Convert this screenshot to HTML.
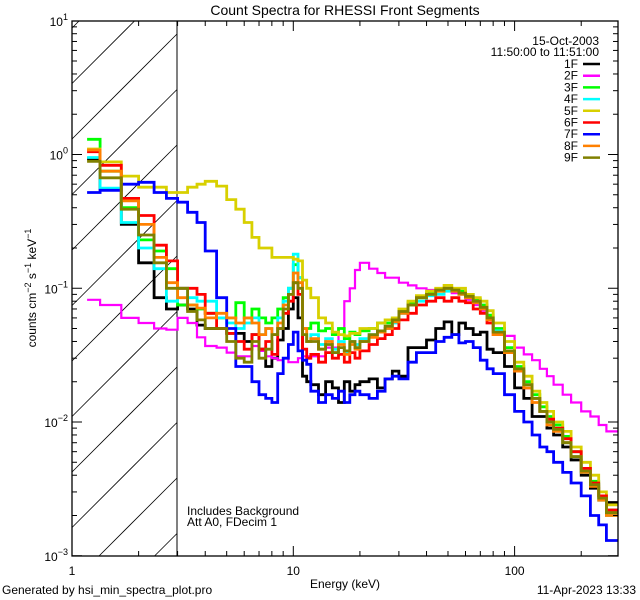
<!DOCTYPE html>
<html><head><meta charset="utf-8"><style>
html,body{margin:0;padding:0;background:#fff;width:640px;height:600px;overflow:hidden;}
svg{display:block;font-family:"Liberation Sans",sans-serif;}
</style></head><body>
<svg id="chart" width="640" height="600" viewBox="0 0 640 600" xmlns="http://www.w3.org/2000/svg">
<rect width="640" height="600" fill="#fff"/>
<defs><clipPath id="plotclip"><rect x="72" y="21" width="546" height="535"/></clipPath></defs>
<text x="345" y="15" font-size="14" text-anchor="middle">Count Spectra for RHESSI Front Segments</text>
<g id="hatch"></g>
<line x1="177" y1="21" x2="177" y2="556" stroke="#000" stroke-width="1"/>
<g id="series" clip-path="url(#plotclip)"></g>
<rect x="72" y="21" width="546" height="535" fill="none" stroke="#000" stroke-width="1.3"/>
<g id="ticks"></g>
<text x="345" y="588" font-size="12" text-anchor="middle">Energy (keV)</text>
<text transform="translate(36,288) rotate(-90)" font-size="12" text-anchor="middle">counts cm<tspan dy="-5" font-size="9">−2</tspan><tspan dy="5"> s</tspan><tspan dy="-5" font-size="9">−1</tspan><tspan dy="5"> keV</tspan><tspan dy="-5" font-size="9">−1</tspan></text>
<text x="599" y="45" font-size="12" text-anchor="end">15-Oct-2003</text>
<text x="599" y="56" font-size="12" text-anchor="end">11:50:00 to 11:51:00</text>
<g id="legend"></g>
<text x="187" y="515" font-size="12">Includes Background</text>
<text x="187" y="526" font-size="12">Att A0, FDecim 1</text>
<text x="2" y="594" font-size="12">Generated by hsi_min_spectra_plot.pro</text>
<text x="636" y="594" font-size="12" text-anchor="end">11-Apr-2023 13:33</text>
</svg>
<script>
const edges = [1.17,1.34,1.67,2.0,2.35,2.67,3.0,3.33,3.67,4.0,4.5,5.0,5.5,6.0,6.5,7.0,7.5,8.0,8.5,9.0,9.5,10.0,10.5,11.0,11.5,12.0,13,14,15,16,17,18,19,20,22,24,26,28,30,33,36,40,44,48,52,56,60,65,70,75,80,90,100,110,120,130,140,150,165,180,200,220,240,260,292];
const seriesNames = ["1F","2F","3F","4F","5F","6F","7F","8F","9F"];
const seriesColors = ["#000000","#ff00ff","#00ff00","#00ffff","#d8d000","#ff0000","#0000ff","#ff8000","#808000"];
const s1F = [0.93,0.55,0.30,0.155,0.085,0.07,0.075,0.07,0.053,0.05,0.05,
 0.046,0.046,0.04,0.045,0.035,0.026,0.03,0.041,0.05,0.07,
 0.085,0.06,0.022,0.02,
 0.019,0.016,0.02,0.018,0.014,0.02,0.017,0.019,0.02,0.021,0.018,0.021,0.024,
 0.022,0.036,0.036,0.041,0.05,0.056,0.045,0.055,0.05,0.045,0.047,0.035,0.033,0.026,
 0.018,0.015,0.011,0.011,0.009,0.008,0.0065,0.0052,0.004,0.0032,0.0028,0.0025];
const s2F = [0.082,0.075,0.06,0.055,0.05,0.049,0.06,0.055,0.043,0.037,0.036,
 0.033,0.031,0.031,0.037,0.034,0.031,0.03,0.029,0.03,0.028,
 0.028,0.03,0.031,0.031,
 0.031,0.031,0.036,0.036,0.05,0.08,0.1,0.137,0.155,0.14,0.13,0.12,0.12,
 0.11,0.105,0.1,0.097,0.097,0.095,0.092,0.09,0.082,0.075,0.068,0.06,0.05,0.044,
 0.036,0.032,0.029,0.025,0.022,0.019,0.016,0.014,0.012,0.011,0.0095,0.0085];
const s3F = [1.3,0.75,0.4,0.23,0.19,0.14,0.075,0.075,0.07,0.065,0.06,
 0.06,0.078,0.06,0.07,0.06,0.055,0.06,0.07,0.085,0.1,
 0.15,0.12,0.05,0.05,
 0.055,0.048,0.05,0.045,0.05,0.042,0.047,0.045,0.048,0.05,0.055,0.055,0.06,
 0.068,0.078,0.085,0.092,0.095,0.1,0.098,0.095,0.09,0.083,0.075,0.063,0.05,0.036,
 0.026,0.02,0.016,0.013,0.011,0.0095,0.0078,0.006,0.0045,0.0036,0.0028,0.0022];
const s4F = [0.95,0.56,0.31,0.2,0.14,0.08,0.1,0.085,0.08,0.08,0.06,
 0.055,0.05,0.055,0.06,0.045,0.05,0.045,0.06,0.08,0.1,
 0.18,0.12,0.045,0.04,
 0.045,0.038,0.042,0.035,0.04,0.033,0.04,0.038,0.042,0.045,0.048,0.05,0.055,
 0.065,0.075,0.08,0.088,0.09,0.095,0.097,0.09,0.085,0.078,0.07,0.06,0.048,0.034,
 0.025,0.019,0.015,0.012,0.01,0.0088,0.007,0.0055,0.0042,0.0034,0.0026,0.002];
const s5F = [1.1,0.88,0.69,0.57,0.57,0.52,0.52,0.57,0.6,0.63,0.58,
 0.46,0.39,0.31,0.24,0.2,0.2,0.17,0.17,0.17,0.17,
 0.165,0.16,0.115,0.1,
 0.085,0.06,0.055,0.047,0.045,0.044,0.046,0.046,0.05,0.05,0.055,0.058,0.06,
 0.07,0.08,0.088,0.095,0.1,0.105,0.1,0.1,0.09,0.085,0.08,0.068,0.055,0.04,
 0.028,0.022,0.017,0.014,0.012,0.01,0.0085,0.0065,0.005,0.004,0.003,0.0024];
const s6F = [1.05,0.83,0.47,0.35,0.21,0.16,0.1,0.1,0.09,0.065,0.05,
 0.046,0.04,0.035,0.045,0.035,0.04,0.032,0.05,0.065,0.08,
 0.11,0.09,0.035,0.03,
 0.032,0.028,0.033,0.03,0.032,0.028,0.033,0.03,0.034,0.038,0.042,0.045,0.05,
 0.058,0.065,0.075,0.08,0.085,0.08,0.085,0.08,0.078,0.07,0.065,0.055,0.045,0.033,
 0.024,0.018,0.015,0.012,0.0105,0.009,0.0075,0.006,0.0045,0.0035,0.0028,0.0022];
const s7F = [0.52,0.54,0.6,0.62,0.52,0.47,0.44,0.37,0.31,0.19,0.085,
 0.05,0.026,0.026,0.02,0.016,0.015,0.014,0.023,0.03,0.038,
 0.047,0.034,0.029,0.027,
 0.017,0.014,0.016,0.015,0.017,0.014,0.016,0.017,0.016,0.015,0.017,0.021,0.022,
 0.021,0.028,0.033,0.033,0.04,0.043,0.045,0.039,0.04,0.036,0.029,0.025,0.023,0.016,
 0.012,0.01,0.008,0.0065,0.006,0.005,0.0042,0.0035,0.0028,0.002,0.0017,0.0013];
const s8F = [1.08,0.75,0.45,0.3,0.17,0.11,0.085,0.075,0.071,0.06,0.065,
 0.06,0.055,0.06,0.055,0.045,0.05,0.045,0.055,0.075,0.09,
 0.13,0.11,0.05,0.04,
 0.042,0.035,0.04,0.033,0.038,0.032,0.038,0.035,0.04,0.043,0.047,0.05,0.056,
 0.065,0.075,0.085,0.09,0.095,0.1,0.095,0.09,0.085,0.078,0.07,0.058,0.045,0.033,
 0.024,0.018,0.014,0.012,0.0095,0.0085,0.007,0.0055,0.0042,0.0033,0.0026,0.002];
const s9F = [0.89,0.67,0.39,0.25,0.155,0.1,0.1,0.067,0.058,0.05,0.05,
 0.04,0.03,0.028,0.04,0.03,0.035,0.045,0.05,0.07,0.09,
 0.11,0.1,0.045,0.04,
 0.04,0.035,0.038,0.033,0.036,0.034,0.04,0.036,0.04,0.045,0.048,0.052,0.058,
 0.067,0.075,0.085,0.09,0.097,0.1,0.097,0.092,0.087,0.08,0.072,0.06,0.047,0.034,
 0.025,0.019,0.015,0.012,0.01,0.0088,0.007,0.0055,0.0043,0.0034,0.0027,0.0021];
const allSeries = [s1F,s2F,s3F,s4F,s5F,s6F,s7F,s8F,s9F];
const xTickLabels = ["1","10","100"];
const yTickExps = ["0","-1","-2","-3"];

const NS = "http://www.w3.org/2000/svg";
const X0 = 72, X1 = 618, Y0 = 21, Y1 = 556, XH = 177;
const XDEC = 221.3, YDEC = 133.75;
function xs(e){ return X0 + XDEC*Math.log10(e); }
function ys(v){ return 422 - YDEC*(Math.log10(v) + 2); }
function mk(tag, attrs, parent){ const el = document.createElementNS(NS, tag); for (const k in attrs) el.setAttribute(k, attrs[k]); parent.appendChild(el); return el; }

const hatch = document.getElementById('hatch');
for (let k = -12; k <= 4; k++) {
  const c = 544 + 55.5*k;
  const xa = Math.max(X0, c - Y1), xb = Math.min(XH, c - Y0);
  if (xb <= xa) continue;
  const l = mk('line', {x1: xa.toFixed(1), y1: (c - xa).toFixed(1), x2: xb.toFixed(1), y2: (c - xb).toFixed(1), stroke: '#000', 'stroke-width': 0.8}, hatch);
  
  
}

const sg = document.getElementById('series');
allSeries.forEach((vals, si) => {
  let d = 'M' + xs(edges[0]).toFixed(1) + ' ' + ys(vals[0]).toFixed(1);
  for (let i = 0; i < vals.length; i++) {
    if (i > 0) d += ' V' + ys(vals[i]).toFixed(1);
    d += ' H' + Math.min(X1, xs(edges[i+1])).toFixed(1);
  }
  const p = mk('path', {d: d, fill: 'none', stroke: seriesColors[si], 'stroke-width': si === 1 ? 2.2 : 2.8, 'stroke-linejoin': 'miter'}, sg);
  
  
});

const tg = document.getElementById('ticks');
function tick(x1,y1,x2,y2){ const t = mk('line', {x1,y1,x2,y2,stroke:'#000','stroke-width':1}, tg);
  
   }
for (let dec = 0; dec < 3; dec++) {
  for (let m = 1; m <= 9; m++) {
    const e = Math.pow(10, dec) * m;
    const x = xs(e);
    if (x > X1 + 0.5) continue;
    const len = m === 1 ? 10 : 5;
    tick(x, Y1, x, Y1 - len);
    tick(x, Y0, x, Y0 + len);
  }
}
for (let dec = -3; dec <= 0; dec++) {
  for (let m = 1; m <= 9; m++) {
    const v = Math.pow(10, dec) * m;
    const y = ys(v);
    const len = m === 1 ? 10 : 5;
    tick(X0, y, X0 + len, y);
    tick(X1, y, X1 - len, y);
  }
}
xTickLabels.forEach((lab, i) => {
  const t = mk('text', {x: xs(Math.pow(10, i)), y: 575, 'font-size': 12, 'text-anchor': 'middle'}, tg);
  t.textContent = lab;
  
  
});
const yexps = ["1"].concat(yTickExps);
yexps.forEach((ex, i) => {
  const v = Math.pow(10, parseInt(ex, 10));
  const y = ys(v) + 5;
  const t = mk('text', {x: 68, y: y, 'font-size': 12, 'text-anchor': 'end'}, tg);
  const a = document.createElementNS(NS, 'tspan'); a.textContent = '10'; t.appendChild(a);
  const b = document.createElementNS(NS, 'tspan'); b.setAttribute('dy', '-6'); b.setAttribute('font-size', '9'); b.textContent = ex.replace('-', '−'); t.appendChild(b);
  
  
});

const lg = document.getElementById('legend');
seriesNames.forEach((n, i) => {
  const y = 64 + i*11.7;
  const g = mk('g', {}, lg);
  
  
  const t = mk('text', {x: 578, y: y + 4, 'font-size': 12, 'text-anchor': 'end'}, g);
  t.textContent = n;
  mk('line', {x1: 583, y1: y, x2: 600, y2: y, stroke: seriesColors[i], 'stroke-width': 2.5}, g);
});
</script>
</body></html>
